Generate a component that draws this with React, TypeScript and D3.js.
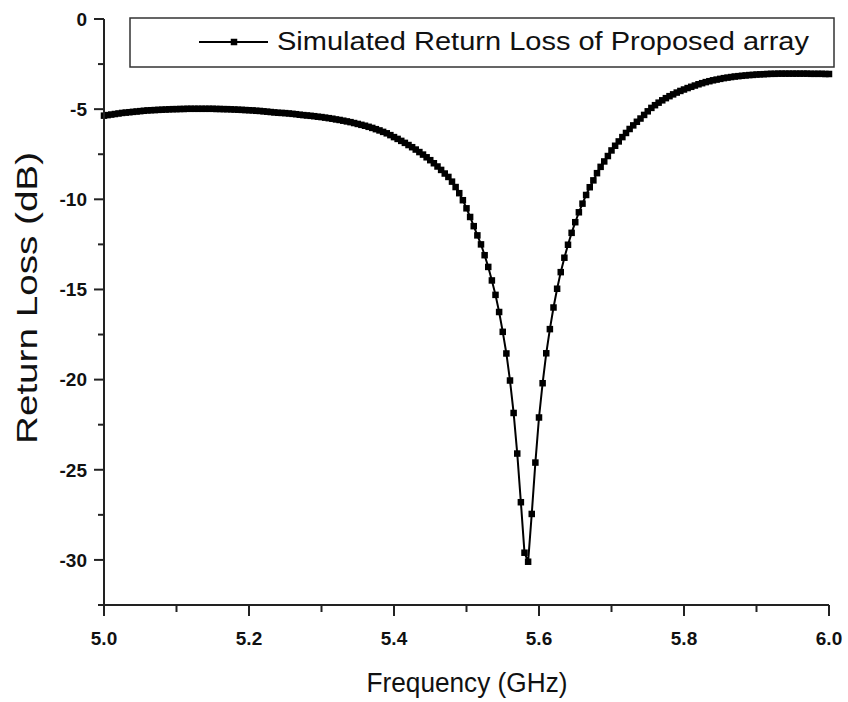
import React from 'react';
import * as d3 from 'd3';

// frequency sweep 5.0 .. 6.0 GHz, 5 MHz step
const freqStart = 5.0;
const freqStep = 0.005;

// simulated S11 in dB
const returnLoss = [
  -5.36, -5.33, -5.3, -5.27, -5.24, -5.21, -5.19, -5.17, -5.15, -5.13, -5.11, -5.09, -5.07, -5.06, -5.05, -5.04, -5.03, -5.02, -5.01, -5.0,
  -5.0, -4.99, -4.99, -4.98, -4.98, -4.98, -4.98, -4.98, -4.98, -4.98, -4.98, -4.99, -4.99, -5.0, -5.0, -5.01, -5.02, -5.03, -5.04, -5.05,
  -5.06, -5.07, -5.09, -5.1, -5.12, -5.14, -5.16, -5.18, -5.2, -5.21, -5.22, -5.24, -5.26, -5.28, -5.31, -5.33, -5.35, -5.37, -5.39, -5.42,
  -5.44, -5.47, -5.5, -5.53, -5.57, -5.6, -5.64, -5.68, -5.72, -5.77, -5.82, -5.87, -5.92, -5.98, -6.04, -6.11, -6.18, -6.26, -6.34, -6.44,
  -6.55, -6.65, -6.76, -6.87, -6.99, -7.11, -7.24, -7.38, -7.52, -7.67, -7.83, -8.0, -8.18, -8.37, -8.57, -8.76, -9.02, -9.32, -9.66, -10.05,
  -10.5, -10.98, -11.49, -12.0, -12.5, -13.1, -13.75, -14.5, -15.3, -16.25, -17.35, -18.55, -20.05, -21.85, -24.1, -26.8, -29.6, -30.1, -27.45, -24.6,
  -22.1, -20.2, -18.54, -17.2, -16.0, -14.96, -14.04, -13.24, -12.52, -11.86, -11.27, -10.72, -10.24, -9.76, -9.33, -8.95, -8.55, -8.2, -7.9, -7.6,
  -7.29, -7.03, -6.79, -6.55, -6.32, -6.1, -5.9, -5.7, -5.52, -5.32, -5.12, -4.93, -4.78, -4.64, -4.51, -4.39, -4.28, -4.18, -4.08, -3.99,
  -3.91, -3.83, -3.76, -3.69, -3.62, -3.56, -3.5, -3.45, -3.4, -3.36, -3.32, -3.28, -3.25, -3.22, -3.19, -3.17, -3.15, -3.13, -3.11, -3.1,
  -3.08, -3.07, -3.06, -3.05, -3.04, -3.04, -3.03, -3.03, -3.03, -3.03, -3.03, -3.03, -3.03, -3.03, -3.03, -3.04, -3.04, -3.04, -3.04, -3.05,
  -3.05,
];

const xMajorTicks = [5.0, 5.2, 5.4, 5.6, 5.8, 6.0];
const xMinorTicks = [5.1, 5.3, 5.5, 5.7, 5.9];
const yMajorTicks = [0, -5, -10, -15, -20, -25, -30];
const yMinorTicks = [-2.5, -7.5, -12.5, -17.5, -22.5, -27.5, -32.5];

const legendLabel = 'Simulated Return Loss of Proposed array';

const App = () => {
  const width = 848;
  const height = 702;
  const margin = { top: 19, right: 19, bottom: 97, left: 104 };

  const data = returnLoss.map((v, i) => ({ f: freqStart + i * freqStep, v }));

  const xScale = d3.scaleLinear().domain([5.0, 6.0]).range([margin.left, width - margin.right]);
  const yScale = d3.scaleLinear().domain([-32.5, 0]).range([height - margin.bottom, margin.top]);

  const line = d3
    .line<{ f: number; v: number }>()
    .x((d) => xScale(d.f))
    .y((d) => yScale(d.v));

  const axisColor = '#222';
  const font = 'Arial, "Liberation Sans", Helvetica, sans-serif';
  const x0 = xScale(5.0);
  const y0 = yScale(-32.5);
  const ms = 6.5;

  return (
    <svg width={width} height={height} style={{ position: 'absolute', left: 0, top: 0, background: '#fff' }}>
      {/* curve */}
      <path d={line(data) || ''} fill="none" stroke="#000" strokeWidth={2} />
      {data.map((d, i) => (
        <rect key={i} x={xScale(d.f) - ms / 2} y={yScale(d.v) - ms / 2} width={ms} height={ms} fill="#000" />
      ))}

      {/* y axis */}
      <line x1={x0} x2={x0} y1={margin.top} y2={y0} stroke={axisColor} strokeWidth={2} />
      {yMajorTicks.map((t) => (
        <g key={t}>
          <line x1={x0 - 10} x2={x0} y1={yScale(t)} y2={yScale(t)} stroke={axisColor} strokeWidth={2} />
          <text
            x={x0 - 17}
            y={yScale(t)}
            dy="0.36em"
            textAnchor="end"
            fontFamily={font}
            fontWeight="bold"
            fontSize={19}
            fill="#111"
          >
            {t}
          </text>
        </g>
      ))}
      {yMinorTicks.map((t) => (
        <line key={t} x1={x0 - 6} x2={x0} y1={yScale(t)} y2={yScale(t)} stroke={axisColor} strokeWidth={2} />
      ))}

      {/* x axis */}
      <line x1={x0 - 4} x2={xScale(6.0)} y1={y0} y2={y0} stroke={axisColor} strokeWidth={2} />
      {xMajorTicks.map((t) => (
        <g key={t}>
          <line x1={xScale(t)} x2={xScale(t)} y1={y0} y2={y0 + 11} stroke={axisColor} strokeWidth={2} />
          <text
            x={xScale(t)}
            y={y0 + 40}
            textAnchor="middle"
            fontFamily={font}
            fontWeight="bold"
            fontSize={19}
            fill="#111"
          >
            {t.toFixed(1)}
          </text>
        </g>
      ))}
      {xMinorTicks.map((t) => (
        <line key={t} x1={xScale(t)} x2={xScale(t)} y1={y0} y2={y0 + 7} stroke={axisColor} strokeWidth={2} />
      ))}

      {/* axis titles */}
      <text
        x={467}
        y={692}
        textAnchor="middle"
        fontFamily={font}
        fontSize={27}
        textLength={201}
        lengthAdjust="spacingAndGlyphs"
        fill="#111"
      >
        Frequency (GHz)
      </text>
      <text
        transform={`translate(37, 298) rotate(-90)`}
        textAnchor="middle"
        fontFamily={font}
        fontSize={29}
        textLength={292}
        lengthAdjust="spacingAndGlyphs"
        fill="#111"
      >
        Return Loss (dB)
      </text>

      {/* legend */}
      <rect x={130} y={18} width={704} height={49} fill="#fff" stroke="#333" strokeWidth={1.5} />
      <line x1={199} x2={268} y1={42} y2={42} stroke="#000" strokeWidth={2.2} />
      <rect x={234 - ms / 2} y={42 - ms / 2} width={ms} height={ms} fill="#000" />
      <text
        x={277}
        y={50}
        fontFamily={font}
        fontSize={25}
        textLength={532}
        lengthAdjust="spacingAndGlyphs"
        fill="#111"
      >
        {legendLabel}
      </text>
    </svg>
  );
};

export default App;
